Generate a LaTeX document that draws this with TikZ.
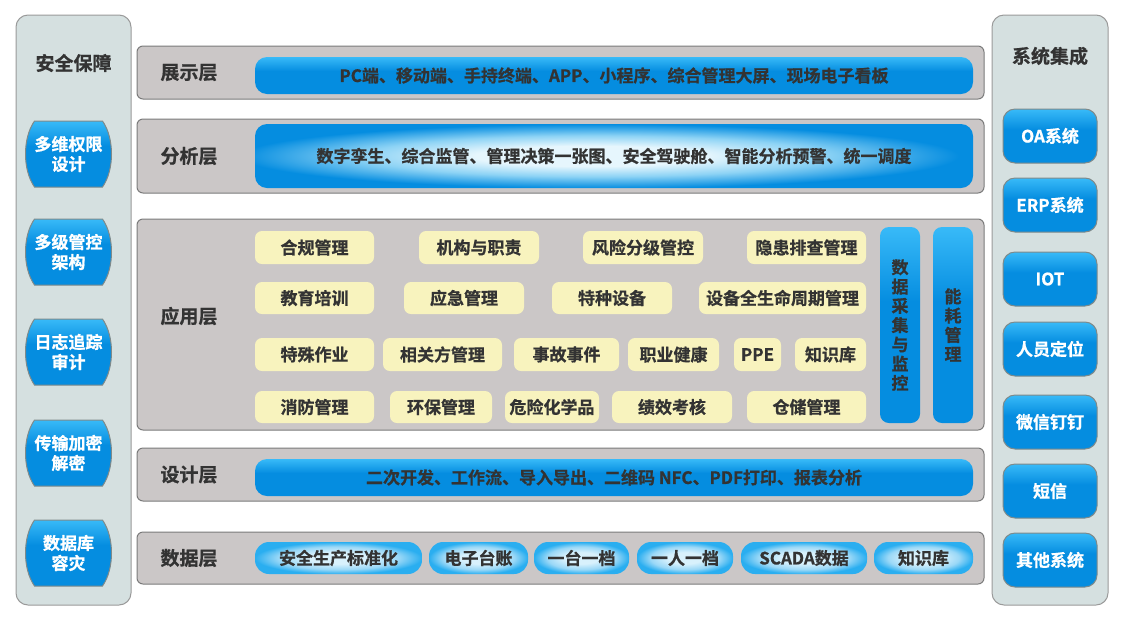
\documentclass[tikz,border=0pt]{standalone}
\usepackage{fontspec}
\setmainfont{Noto Sans CJK SC}[BoldFont={Noto Sans CJK SC Bold}, BoldFeatures={FakeBold=0.8}]
\definecolor{panelFill}{HTML}{CBC7C7}
\definecolor{panelBorder}{HTML}{7B7B7B}
\definecolor{sideFill}{HTML}{D5E0E0}
\definecolor{sideBorder}{HTML}{9A9A9A}
\definecolor{blueTop}{HTML}{38BAF8}
\definecolor{blueBot}{HTML}{058DE0}
\definecolor{glowLight}{HTML}{E6F6FD}
\definecolor{glowMid}{HTML}{8DD3F5}
\definecolor{pillLight}{HTML}{D8F1FC}
\definecolor{pillMid}{HTML}{9AD8F7}
\definecolor{pillEdge}{HTML}{2AAEF0}
\definecolor{yel}{HTML}{F8F3BE}
\definecolor{textDark}{HTML}{333333}
\definecolor{boxBorder}{HTML}{7F8A8A}
\pgfdeclareverticalshading{bluegrad}{100bp}{color(0bp)=(blueBot); color(25bp)=(blueBot); color(56bp)=(blueBot); color(75bp)=(blueTop); color(100bp)=(blueTop)}
\pgfdeclareradialshading{anaglow}{\pgfpoint{-2bp}{0bp}}{color(0bp)=(glowLight); color(8bp)=(glowLight); color(16bp)=(glowMid); color(25bp)=(blueBot); color(50bp)=(blueBot)}
\pgfdeclareradialshading{pillglow}{\pgfpoint{0bp}{0bp}}{color(0bp)=(pillLight); color(9bp)=(pillLight); color(18bp)=(pillMid); color(25bp)=(pillEdge); color(50bp)=(pillEdge)}
\newcommand\bx[7]{\node[#1, minimum width={(#5-#3)*1pt}, minimum height={(#6-#4)*1pt}, inner sep=0pt] (#2) at ({(#3+#5)/2},{(#4+#6)/2}) {#7};}
\newcommand\hexbox[4]{%
  \path[hexshape] ({#2-34},{#3-33}) -- ({#2+34},{#3-33}) .. controls ({#2+46},{#3-16}) and ({#2+46},{#3+16}) .. ({#2+34},{#3+33}) -- ({#2-34},{#3+33}) .. controls ({#2-46},{#3+16}) and ({#2-46},{#3-16}) .. cycle;
  \node[whitetxt, align=center] (#1) at (#2,#3) {#4};}
\tikzset{
  lab/.style={font=\bfseries\fontsize{17}{20}\selectfont, text=textDark},
  bigtxt/.style={font=\bfseries\fontsize{19}{22}\selectfont, text=textDark},
  whitetxt/.style={font=\bfseries\fontsize{17}{20}\selectfont, text=white},
  panel/.style={draw=panelBorder, fill=panelFill, rounded corners=6pt, line width=1pt},
  side/.style={draw=sideBorder, fill=sideFill, rounded corners=12pt, line width=1pt},
  bar/.style={shading=bluegrad, rounded corners=12pt, lab},
  anabar/.style={shading=anaglow, rounded corners=12pt, lab},
  pill/.style={shading=pillglow, rounded corners=14pt, lab},
  ybox/.style={fill=yel, rounded corners=7pt, lab},
  vbar/.style={shading=bluegrad, rounded corners=9pt, lab, align=center, font=\bfseries\fontsize{17}{19.3}\selectfont},
  rbox/.style={shading=bluegrad, draw=boxBorder, line width=1pt, rounded corners=12pt, whitetxt},
  hexshape/.style={shading=bluegrad, draw=boxBorder, line width=1pt},
}
\begin{document}
\begin{tikzpicture}[x=1pt,y=-1pt]
\useasboundingbox (0,0) rectangle (1127,622);
\fill[white] (0,0) rectangle (1127,622);
% side panels
\bx{side}{secpanel}{16}{15}{131}{605}{}
\node[bigtxt] (sectitle) at (73.5,63) {安全保障};
\hexbox{h1}{68.5}{154}{多维权限\\设计}
\hexbox{h2}{68.5}{252}{多级管控\\架构}
\hexbox{h3}{68.5}{352}{日志追踪\\审计}
\hexbox{h4}{68.5}{453}{传输加密\\解密}
\hexbox{h5}{68.5}{553}{数据库\\容灾}
\bx{side}{syspanel}{992}{15}{1108}{605}{}
\node[bigtxt] (systitle) at (1050,56) {系统集成};
\bx{rbox}{r1}{1003}{109}{1097}{163}{OA系统}
\bx{rbox}{r2}{1003}{178}{1097}{232}{ERP系统}
\bx{rbox}{r3}{1003}{252}{1097}{306}{IOT}
\bx{rbox}{r4}{1003}{322}{1097}{376}{人员定位}
\bx{rbox}{r5}{1003}{395}{1097}{449}{微信钉钉}
\bx{rbox}{r6}{1003}{464}{1097}{518}{短信}
\bx{rbox}{r7}{1003}{533}{1097}{587}{其他系统}
% layers
\bx{panel}{Lshow}{137}{46}{984}{99}{}
\bx{panel}{Lana}{137}{119}{984}{193}{}
\bx{panel}{Lapp}{137}{219}{984}{430}{}
\bx{panel}{Ldes}{137}{448}{984}{501}{}
\bx{panel}{Ldat}{137}{532}{984}{584}{}
\node[bigtxt] (tshow) at (189,72.5) {展示层};
\node[bigtxt] (tana) at (189,156) {分析层};
\node[bigtxt] (tapp) at (189,316) {应用层};
\node[bigtxt] (tdes) at (189,474.5) {设计层};
\node[bigtxt] (tdat) at (189,558) {数据层};
\bx{bar}{Bshow}{255}{57}{973}{94}{PC端、移动端、手持终端、APP、小程序、综合管理大屏、现场电子看板}
\bx{anabar}{Bana}{255}{124}{973}{188}{数字孪生、综合监管、管理决策一张图、安全驾驶舱、智能分析预警、统一调度}
\bx{bar}{Bdes}{255}{459}{973}{496}{二次开发、工作流、导入导出、二维码 NFC、PDF打印、报表分析}
% data pills
\bx{pill}{d1}{255}{542}{422}{574}{安全生产标准化}
\bx{pill}{d2}{429}{542}{528}{574}{电子台账}
\bx{pill}{d3}{534}{542}{629}{574}{一台一档}
\bx{pill}{d4}{637}{542}{733}{574}{一人一档}
\bx{pill}{d5}{741}{542}{867}{574}{SCADA数据}
\bx{pill}{d6}{874}{542}{973}{574}{知识库}
% application boxes
\bx{ybox}{a11}{255}{231}{374}{264}{合规管理}
\bx{ybox}{a12}{419}{231}{539}{264}{机构与职责}
\bx{ybox}{a13}{583}{231}{703}{264}{风险分级管控}
\bx{ybox}{a14}{747}{231}{866}{264}{隐患排查管理}
\bx{ybox}{a21}{255}{282}{374}{314}{教育培训}
\bx{ybox}{a22}{404}{282}{524}{314}{应急管理}
\bx{ybox}{a23}{552}{282}{672}{314}{特种设备}
\bx{ybox}{a24}{699}{282}{866}{314}{设备全生命周期管理}
\bx{ybox}{a31}{255}{338}{374}{371}{特殊作业}
\bx{ybox}{a32}{383}{338}{502}{371}{相关方管理}
\bx{ybox}{a33}{514}{338}{619}{371}{事故事件}
\bx{ybox}{a34}{628}{338}{719}{371}{职业健康}
\bx{ybox}{a35}{734}{338}{781}{371}{PPE}
\bx{ybox}{a36}{795}{338}{866}{371}{知识库}
\bx{ybox}{a41}{255}{391}{374}{423}{消防管理}
\bx{ybox}{a42}{390}{391}{492}{423}{环保管理}
\bx{ybox}{a43}{505}{391}{599}{423}{危险化学品}
\bx{ybox}{a44}{612}{391}{732}{423}{绩效考核}
\bx{ybox}{a45}{747}{391}{866}{423}{仓储管理}
\bx{vbar}{v1}{880}{227}{920}{423}{数\\据\\采\\集\\与\\监\\控}
\bx{vbar}{v2}{933}{227}{973}{423}{能\\耗\\管\\理}
\end{tikzpicture}
\end{document}
